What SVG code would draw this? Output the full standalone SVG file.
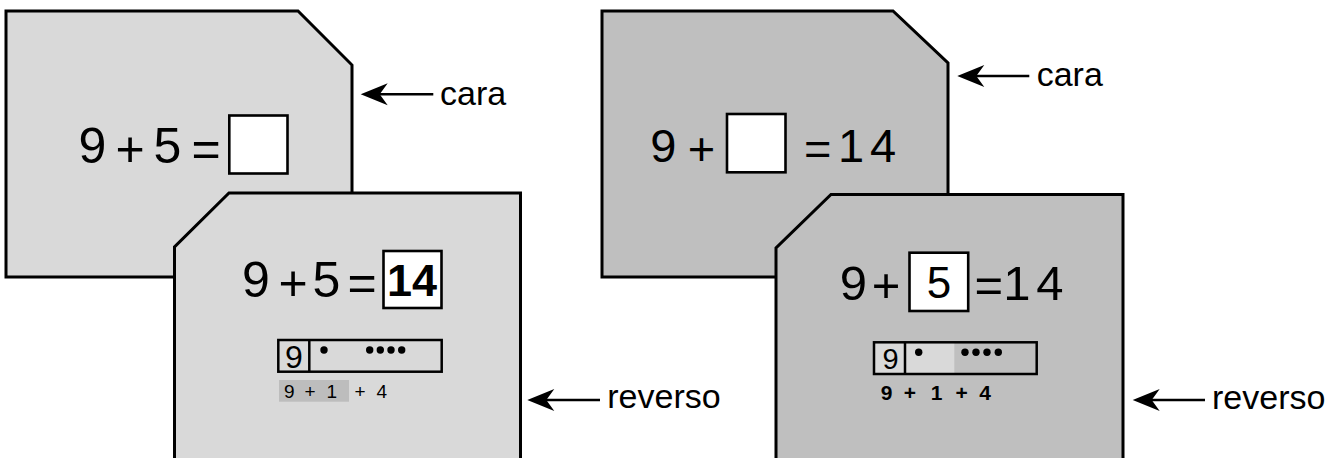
<svg xmlns="http://www.w3.org/2000/svg" width="1334" height="458" viewBox="0 0 1334 458">
<style>
.card{stroke:#000;stroke-width:3;stroke-linejoin:miter}
.light{fill:#d9d9d9}
.dark{fill:#bfbfbf}
.box{fill:#fff;stroke:#000;stroke-width:2.6}
.eq{font-family:"Liberation Sans",Arial,sans-serif;font-size:50px;fill:#000;text-anchor:middle}
.ans{font-family:"Liberation Sans",Arial,sans-serif;font-size:45px;font-weight:bold;fill:#000;text-anchor:middle}
.strip{fill:none;stroke:#000;stroke-width:2.5}
.small{font-family:"Liberation Sans",Arial,sans-serif;font-size:19px;fill:#000;text-anchor:middle}
.smallb{font-family:"Liberation Sans",Arial,sans-serif;font-size:21px;font-weight:bold;fill:#000;text-anchor:middle}
.lbl{font-family:"Liberation Sans",Arial,sans-serif;font-size:34px;fill:#000}
.arr{stroke:#000;stroke-width:2.5;fill:none}
</style>
<defs>
<marker id="ah" markerUnits="userSpaceOnUse" viewBox="-14 -12 32 24" markerWidth="32" markerHeight="24" refX="0" refY="0" orient="auto" overflow="visible">
<path d="M-12,0 L15,-11 L7,0 L15,11 Z" fill="#000"/>
</marker>
</defs>

<g id="card-left-cara">
<path class="card light" d="M6,11 L298,11 L352,65 L352,277 L6,277 Z"/>
<text class="eq" x="92.3" y="162.7">9</text>
<text class="eq" x="130" y="166">+</text>
<text class="eq" x="167.5" y="162.7">5</text>
<text class="eq" x="206" y="166">=</text>
<rect class="box" x="229.3" y="115.5" width="58.2" height="58"/>
</g>

<g id="card-left-reverso">
<path class="card light" d="M229,193 L520.5,193 L520.5,470 L174.5,470 L174.5,247 Z"/>
<text class="eq" x="255.8" y="296.7">9</text>
<text class="eq" x="293" y="300">+</text>
<text class="eq" x="326.5" y="296.7">5</text>
<text class="eq" x="362" y="300">=</text>
<rect class="box" x="383.5" y="251" width="58" height="57"/>
<text class="ans" x="412" y="296">14</text>
<rect class="strip" x="278.3" y="340" width="163.4" height="31.7"/>
<line class="strip" x1="309.3" y1="340" x2="309.3" y2="371.7"/>
<text class="eq" style="font-size:32px" x="294" y="368.3">9</text>
<g fill="#000">
<circle cx="324" cy="350" r="3.7"/>
<circle cx="369.7" cy="350" r="3.7"/>
<circle cx="380.3" cy="350" r="3.7"/>
<circle cx="391" cy="350" r="3.7"/>
<circle cx="401.7" cy="350" r="3.7"/>
</g>
<rect x="279" y="380" width="70" height="21.7" fill="#bdbdbd"/>
<text class="small" x="289.2" y="398.3">9</text>
<text class="small" x="310" y="398.3">+</text>
<text class="small" x="331.7" y="398.3">1</text>
<text class="small" x="360" y="398.3">+</text>
<text class="small" x="381.7" y="398.3">4</text>
</g>

<g id="card-right-cara">
<path class="card dark" d="M602,11 L893,11 L948,63 L948,277 L602,277 Z"/>
<text class="eq" style="font-size:47px" x="663.4" y="161.7">9</text>
<text class="eq" style="font-size:47px" x="701.5" y="164.5">+</text>
<rect class="box" x="727" y="114" width="58.5" height="58.3"/>
<text class="eq" style="font-size:47px" x="817.7" y="164.5">=</text>
<text class="eq" style="font-size:47px" y="161.7"><tspan x="851">1</tspan><tspan x="883">4</tspan></text>
</g>

<g id="card-right-reverso">
<path class="card dark" d="M831,194.5 L1123,194.5 L1123,470 L776,470 L776,248 Z"/>
<text class="eq" style="font-size:49px" x="853.5" y="300">9</text>
<text class="eq" style="font-size:49px" x="886" y="302">+</text>
<rect class="box" x="909.5" y="252.7" width="58.7" height="58.3"/>
<text class="eq" style="font-size:44px" x="939" y="297.7">5</text>
<text class="eq" style="font-size:49px" x="988.7" y="302">=</text>
<text class="eq" style="font-size:49px" y="300"><tspan x="1017">1</tspan><tspan x="1050">4</tspan></text>
<rect x="874" y="342.3" width="80.3" height="31.7" fill="#d9d9d9"/>
<rect class="strip" x="874" y="342.3" width="162.7" height="31.7"/>
<line class="strip" x1="905" y1="342.3" x2="905" y2="374"/>
<text class="eq" style="font-size:29px" x="890.5" y="369.3">9</text>
<g fill="#000">
<circle cx="918.7" cy="352.3" r="3.7"/>
<circle cx="965" cy="352.3" r="3.7"/>
<circle cx="976" cy="352.3" r="3.7"/>
<circle cx="987" cy="352.3" r="3.7"/>
<circle cx="998.3" cy="352.3" r="3.7"/>
</g>
<text class="smallb" x="886.7" y="400">9</text>
<text class="smallb" x="910" y="400">+</text>
<text class="smallb" x="936.7" y="400">1</text>
<text class="smallb" x="961.7" y="400">+</text>
<text class="smallb" x="985" y="400">4</text>
</g>

<g id="connectors">
<line class="arr" x1="372.7" y1="94.3" x2="433.3" y2="94.3" marker-start="url(#ah)"/>
<line class="arr" x1="969.3" y1="76" x2="1029.3" y2="76" marker-start="url(#ah)"/>
<line class="arr" x1="539.3" y1="400" x2="600" y2="400" marker-start="url(#ah)"/>
<line class="arr" x1="1144.7" y1="400" x2="1205" y2="400" marker-start="url(#ah)"/>
</g>

<g id="labels">
<text class="lbl" x="440" y="105">cara</text>
<text class="lbl" x="1036.7" y="85.5">cara</text>
<text class="lbl" x="607.3" y="407.5">reverso</text>
<text class="lbl" x="1212" y="409">reverso</text>
</g>
</svg>
